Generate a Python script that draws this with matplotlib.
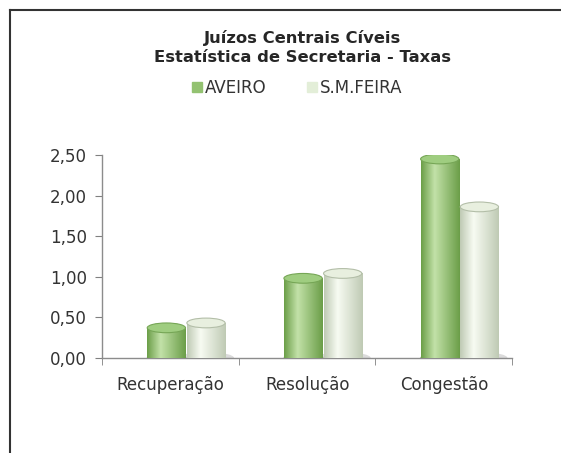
import matplotlib
matplotlib.use("Agg")
import matplotlib.pyplot as plt
import numpy as np
from matplotlib.patches import Ellipse
from matplotlib.colors import LinearSegmentedColormap
from matplotlib.lines import Line2D

# dados
categorias = ["Recuperação", "Resolução", "Congestão"]
aveiro = [0.37, 0.98, 2.45]
sm_feira = [0.43, 1.04, 1.86]
series = ["AVEIRO", "S.M.FEIRA"]
yticks = [0.0, 0.5, 1.0, 1.5, 2.0, 2.5]

plt.rcParams['font.family'] = ['DejaVu Sans']

fig = plt.figure(figsize=(5.61, 4.53), dpi=100)
ax = fig.add_axes([0.182, 0.210, 0.731, 0.448])

# cores dos cilindros (borda, realce, topo)
estilos = [
    dict(edge="#6b9e48", light="#c2e1a8", top="#9fcd80", rim="#76a656", legend="#93c271"),
    dict(edge="#bfcab4", light="#f7fbf2", top="#e8efdf", rim="#b3bea8", legend="#e3eed8"),
]

largura = 0.28
offsets = [-0.5 + 0.33, -0.5 + 0.62]
elip_h = 0.12

x = np.arange(len(categorias))
for k, vals in enumerate([aveiro, sm_feira]):
    st = estilos[k]
    cmap = LinearSegmentedColormap.from_list(
        "c%d" % k, [st["edge"], st["light"], st["edge"]], N=256)
    grad = np.concatenate([np.linspace(0, 0.5, 90), np.linspace(0.5, 1, 166)])[None, :]
    bars = ax.bar(x + offsets[k], vals, width=largura, align="edge",
                  color="none", edgecolor="none", zorder=2)
    for b in bars:
        x0, w, h = b.get_x(), b.get_width(), b.get_height()
        # sombra no chão
        ax.add_patch(Ellipse((x0 + w / 2 + 0.03, 0.0), w * 1.25, elip_h * 1.1,
                             color="#b8b8b8", alpha=0.5, zorder=1, lw=0))
        ax.add_patch(Ellipse((x0 + w / 2, 0.0), w, elip_h, color=st["edge"],
                             zorder=2, lw=0))
        im = ax.imshow(grad, cmap=cmap, extent=(x0, x0 + w, 0, h),
                       aspect="auto", zorder=3)
        im.set_clip_path(b)
        ax.add_patch(Ellipse((x0 + w / 2, h), w, elip_h, facecolor=st["top"],
                             edgecolor=st["rim"], lw=0.8, zorder=4))

ax.set_xlim(-0.5, 2.5)
ax.set_ylim(0, 2.5)
ax.set_yticks(yticks)
ax.set_yticklabels([("%.2f" % v).replace(".", ",") for v in yticks])
ax.set_xticks(x)
ax.set_xticklabels(categorias)
ax.set_xticks([-0.5, 0.5, 1.5, 2.5], minor=True)
ax.tick_params(axis="x", which="major", length=0, pad=13, labelsize=12,
               labelcolor="#333333")
ax.tick_params(axis="x", which="minor", length=5, color="#808080", direction="out")
ax.tick_params(axis="y", length=5, color="#808080", labelsize=12,
               labelcolor="#333333", pad=6)
for s in ["top", "right"]:
    ax.spines[s].set_visible(False)
for s in ["left", "bottom"]:
    ax.spines[s].set_color("#8c8c8c")
    ax.spines[s].set_linewidth(1.0)

# título e legenda
fig.text(0.54, 0.916, "Juízos Centrais Cíveis", ha="center", va="center",
         fontsize=11.8, fontweight="bold", color="#262626")
fig.text(0.54, 0.874, "Estatística de Secretaria - Taxas", ha="center",
         va="center", fontsize=11.8, fontweight="bold", color="#262626")
handles = [plt.Rectangle((0, 0), 1, 1, color=estilos[i]["legend"]) for i in range(2)]
fig.legend(handles, series, loc="center", bbox_to_anchor=(0.53, 0.806),
           ncol=2, frameon=False, fontsize=12, handlelength=0.6,
           handleheight=0.6, handletextpad=0.2, columnspacing=2.4,
           labelcolor="#333333")

# moldura (esquerda e topo)
fig.add_artist(Line2D([0.017, 0.017], [0.0, 0.978], color="#333333", lw=1.5))
fig.add_artist(Line2D([0.017, 1.0], [0.978, 0.978], color="#333333", lw=1.5))

fig.savefig("out.png", dpi=100)
